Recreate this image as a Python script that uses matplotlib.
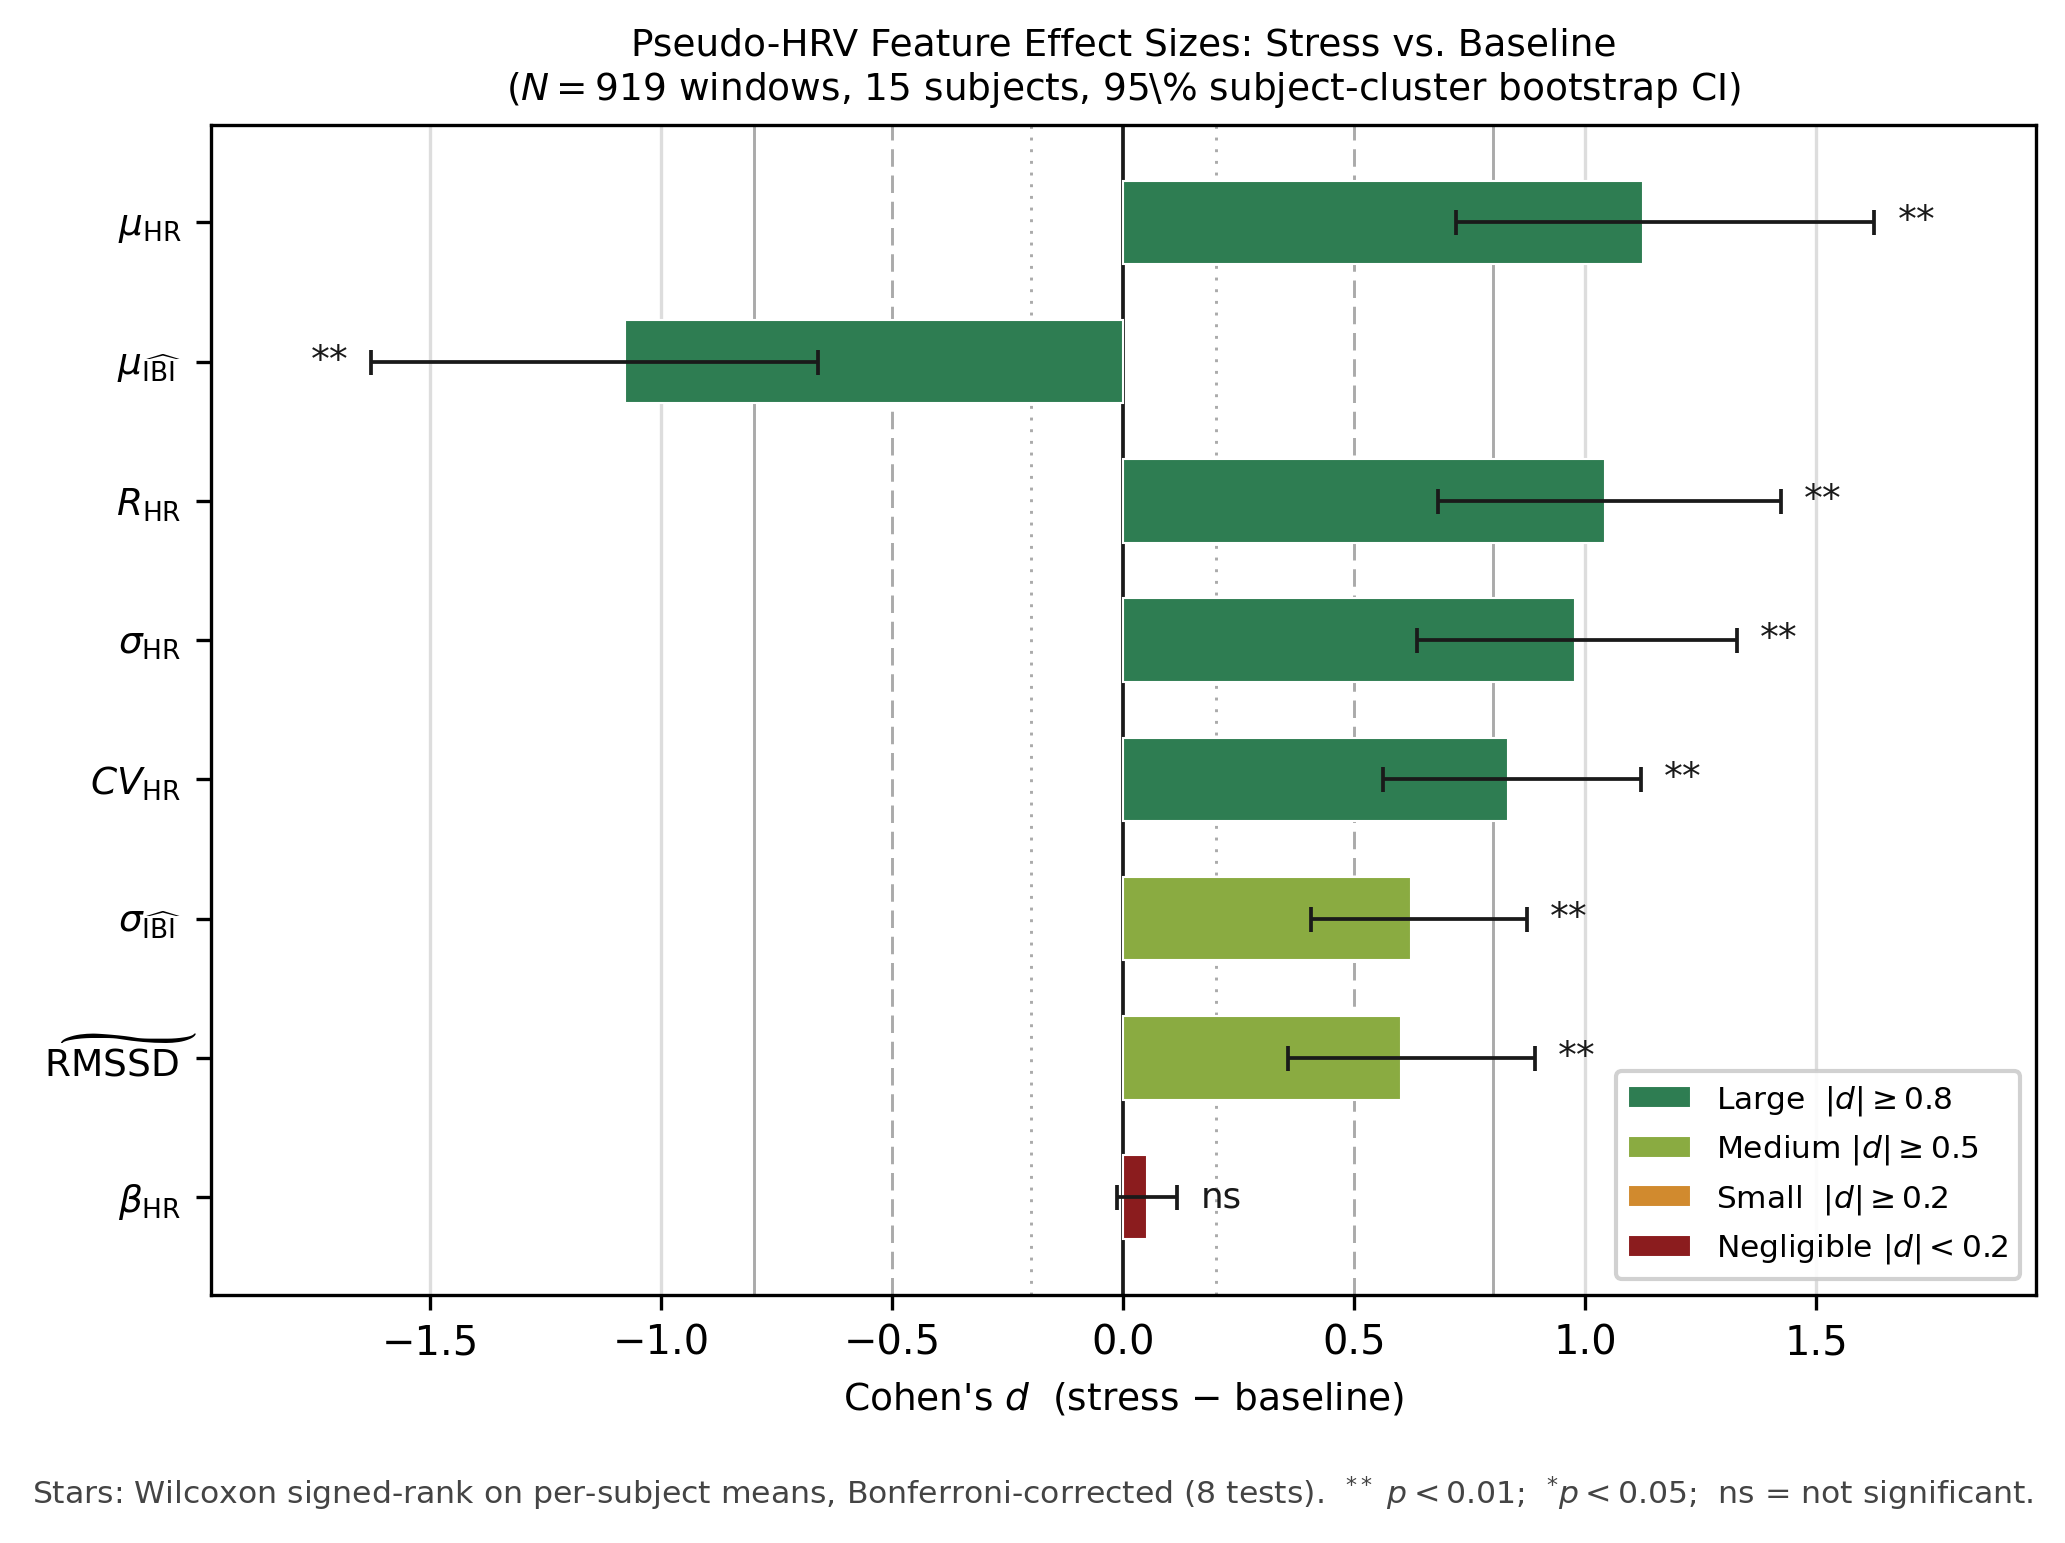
import matplotlib
matplotlib.use("Agg")
import matplotlib.pyplot as plt
import matplotlib.transforms as mtransforms
import numpy as np
from matplotlib.patches import Patch

plt.rcParams['font.family'] = ['DejaVu Sans']
plt.rcParams['mathtext.fontset'] = 'dejavusans'

# feature labels (top to bottom)
features = [r'$\mu_{\mathrm{HR}}$', r'$\mu_{\widehat{\mathrm{IBI}}}$', r'$R_{\mathrm{HR}}$',
            r'$\sigma_{\mathrm{HR}}$', r'$CV_{\mathrm{HR}}$', r'$\sigma_{\widehat{\mathrm{IBI}}}$',
            r'$\widetilde{\mathrm{RMSSD}}$', r'$\beta_{\mathrm{HR}}$']
cohen_d = [1.124, -1.078, 1.043, 0.978, 0.832, 0.623, 0.602, 0.051]
ci_low = [0.720, -1.628, 0.681, 0.636, 0.563, 0.407, 0.356, -0.013]
ci_high = [1.626, -0.661, 1.424, 1.328, 1.121, 0.873, 0.891, 0.117]
sig = ['**', '**', '**', '**', '**', '**', '**', 'ns']

size_names = ['Large  $|d| \\geq 0.8$', 'Medium $|d| \\geq 0.5$',
              'Small  $|d| \\geq 0.2$', 'Negligible $|d| < 0.2$']
size_colors = ['#2e7d52', '#8aab41', '#d18a2e', '#8b1c1e']


def size_color(d):
    a = abs(d)
    if a >= 0.8:
        return size_colors[0]
    if a >= 0.5:
        return size_colors[1]
    if a >= 0.2:
        return size_colors[2]
    return size_colors[3]


fig = plt.figure(figsize=(2065 / 300, 1543 / 300), dpi=300)
ax = fig.add_axes([0.102, 0.161, 0.884, 0.758])

y = np.arange(len(features))
d = np.array(cohen_d)
lo = np.array(ci_low)
hi = np.array(ci_high)

# reference lines
for t in [-1.5, -1.0, 1.0, 1.5]:
    ax.axvline(t, color='#dddddd', lw=0.8, zorder=0)
for t in [-0.8, 0.8]:
    ax.axvline(t, color='#aaaaaa', lw=0.7, zorder=0.5)
for t in [-0.5, 0.5]:
    ax.axvline(t, color='#aaaaaa', lw=0.7, ls=(0, (6, 3)), zorder=0.5)
for t in [-0.2, 0.2]:
    ax.axvline(t, color='#aaaaaa', lw=0.7, ls=(0, (1, 3)), zorder=0.5)
ax.axvline(0, color='#1a1a1a', lw=0.9, zorder=1)

ax.barh(y, d, height=0.6, color=[size_color(v) for v in d],
        edgecolor='white', linewidth=0.5, zorder=2)
ax.errorbar(d, y, xerr=[d - lo, hi - d], fmt='none', ecolor='#1a1a1a',
            elinewidth=0.9, capsize=3, capthick=0.9, zorder=3)

off = 0.05
for i in range(len(features)):
    if d[i] >= 0:
        x, ha = hi[i] + off, 'left'
    else:
        x, ha = lo[i] - off, 'right'
    fs = 9 if sig[i] != 'ns' else 8.6
    ax.text(x, y[i], sig[i], ha=ha, va='center', fontsize=fs, color='#1a1a1a', zorder=4)

ax.set_yticks(y)
ax.set_yticklabels(features, fontsize=9)
# the tilde overhangs RMSSD on the right; nudge that label so the text lines up
lab = ax.get_yticklabels()[6]
lab.set_transform(lab.get_transform() +
                  mtransforms.ScaledTranslation(0.055, 0, fig.dpi_scale_trans))
ax.set_ylim(7.7, -0.7)
ax.set_xlim(-1.976, 1.976)
ax.set_xticks([-1.5, -1.0, -0.5, 0.0, 0.5, 1.0, 1.5])
ax.tick_params(axis='x', labelsize=9.6)
ax.set_xlabel("Cohen's $d$  (stress \u2212 baseline)", fontsize=9)
ax.set_title("Pseudo-HRV Feature Effect Sizes: Stress vs. Baseline\n"
             "($N = 919$ windows, 15 subjects, 95\\% subject-cluster bootstrap CI)",
             fontsize=9, pad=6)

handles = [Patch(facecolor=c, edgecolor='white', linewidth=0.5) for c in size_colors]
ax.legend(handles, size_names, loc='lower right', fontsize=7.5, framealpha=0.9)

fig.text(0.5, 0.032, "Stars: Wilcoxon signed-rank on per-subject means, Bonferroni-corrected (8 tests).  "
         "$^{**}$ $p<0.01$;  $^{*}p<0.05$;  ns = not significant.",
         ha='center', va='center', fontsize=7.55, color='#444444')

fig.savefig("out.png", dpi=300)
